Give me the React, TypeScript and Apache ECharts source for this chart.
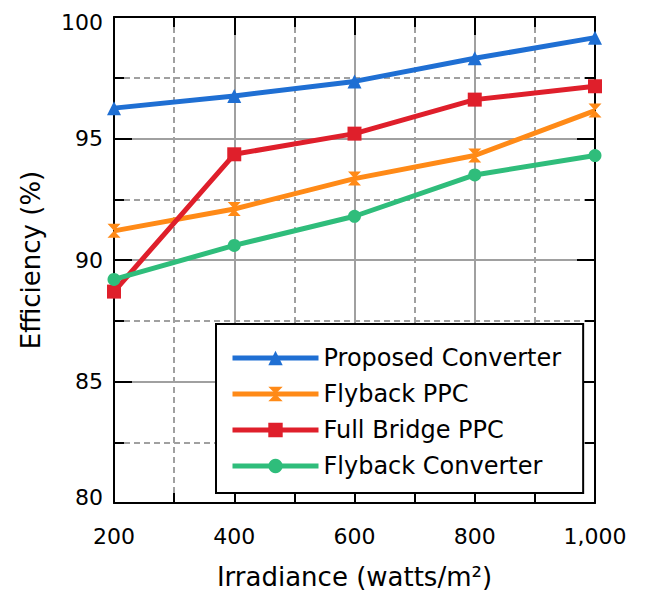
import React, { useEffect, useRef } from "react";
import * as echarts from "echarts";

const irradiance = [200, 400, 600, 800, 1000];
const proposedConverter = [96.25, 96.75, 97.35, 98.3, 99.15];
const flybackPPC = [91.2, 92.1, 93.35, 94.3, 96.15];
const fullBridgePPC = [88.7, 94.35, 95.2, 96.6, 97.15];
const flybackConverter = [89.2, 90.6, 91.8, 93.5, 94.3];

const seriesNames = ["Proposed Converter", "Flyback PPC", "Full Bridge PPC", "Flyback Converter"];
const seriesColors = ["#1f6fd3", "#ff8a17", "#df1f2b", "#2fbd7b"];

const FONT = "'DejaVu Sans', Verdana, sans-serif";
const HOURGLASS = "path://M0,0 L10,0 L5,5 L10,10 L0,10 L5,5 Z";

export default function App() {
  const ref = useRef<HTMLDivElement>(null);
  useEffect(() => {
    if (!ref.current) return;
    const chart = echarts.init(ref.current, undefined, { renderer: "svg" });
    const values = [proposedConverter, flybackPPC, fullBridgePPC, flybackConverter];
    const symbols = ["triangle", HOURGLASS, "rect", "circle"];
    const symbolSizes: any[] = [14, [13, 14], 14, 13];

    const tickCommon = {
      axisLine: { show: true, onZero: false, lineStyle: { color: "#000", width: 2 } },
      axisTick: { show: true, inside: true, length: 18, lineStyle: { color: "#000", width: 2 } },
      minorTick: { show: true, splitNumber: 2, length: 10, lineStyle: { color: "#000", width: 2 } },
    };

    chart.setOption({
      animation: false,
      backgroundColor: "#fff",
      grid: { left: 106, top: 9, width: 481, height: 486, containLabel: false, outerBoundsMode: "none" },
      textStyle: { fontFamily: FONT },
      xAxis: [
        {
          type: "value",
          min: 200,
          max: 1000,
          interval: 200,
          ...tickCommon,
          axisLabel: {
            color: "#000",
            fontSize: 22,
            fontFamily: FONT,
            margin: 22,
            formatter: (v: number) => (v >= 1000 ? "1,000" : String(v)),
          },
          splitLine: { show: true, lineStyle: { color: "#a0a0a0", width: 2 } },
          minorSplitLine: { show: true, lineStyle: { color: "#a0a0a0", width: 2, type: [6, 4] } },
          name: "Irradiance (watts/m²)",
          nameLocation: "middle",
          nameGap: 61,
          nameTextStyle: { color: "#000", fontSize: 26, fontFamily: FONT },
        },
        {
          type: "value",
          position: "top",
          min: 200,
          max: 1000,
          interval: 200,
          ...tickCommon,
          axisLabel: { show: false },
          splitLine: { show: false },
        },
      ],
      yAxis: [
        {
          type: "value",
          min: 80,
          max: 100,
          interval: 5,
          ...tickCommon,
          axisLabel: {
            color: "#000",
            fontSize: 22,
            fontFamily: FONT,
            margin: 11,
            formatter: (v: number) => (v === 100 ? "{t|100}" : v === 80 ? "{b|80}" : String(v)),
            rich: {
              t: { fontSize: 22, fontFamily: FONT, color: "#000", padding: [10, 0, 0, 0] },
              b: { fontSize: 22, fontFamily: FONT, color: "#000", padding: [0, 0, 12, 0] },
            },
          },
          splitLine: { show: true, lineStyle: { color: "#a0a0a0", width: 2 } },
          minorSplitLine: { show: true, lineStyle: { color: "#a0a0a0", width: 2, type: [6, 4] } },
          name: "Efficiency (%)",
          nameLocation: "middle",
          nameGap: 70,
          nameTextStyle: { color: "#000", fontSize: 26, fontFamily: FONT },
        },
        {
          type: "value",
          position: "right",
          min: 80,
          max: 100,
          interval: 5,
          ...tickCommon,
          axisLabel: { show: false },
          splitLine: { show: false },
        },
      ],
      legend: {
        show: true,
        orient: "vertical",
        left: 208,
        top: 316,
        backgroundColor: "#fff",
        borderColor: "#000",
        borderWidth: 2,
        borderRadius: 0,
        padding: [22, 22, 15, 14],
        itemWidth: 86,
        itemHeight: 18,
        itemGap: 12,
        lineStyle: { width: 5 },
        textStyle: { color: "#000", fontSize: 24, fontFamily: FONT },
        data: seriesNames,
      },
      series: seriesNames.map((name, i) => ({
        name,
        type: "line",
        xAxisIndex: 0,
        yAxisIndex: 0,
        data: irradiance.map((x, j) => [x, values[i][j]]),
        symbol: symbols[i],
        symbolSize: symbolSizes[i],
        showAllSymbol: true,
        color: seriesColors[i],
        lineStyle: { color: seriesColors[i], width: 5 },
        itemStyle: { color: seriesColors[i] },
        clip: false,
        z: 3,
      })),
    });
    return () => chart.dispose();
  }, []);
  return <div ref={ref} style={{ width: 638, height: 589 }} />;
}
